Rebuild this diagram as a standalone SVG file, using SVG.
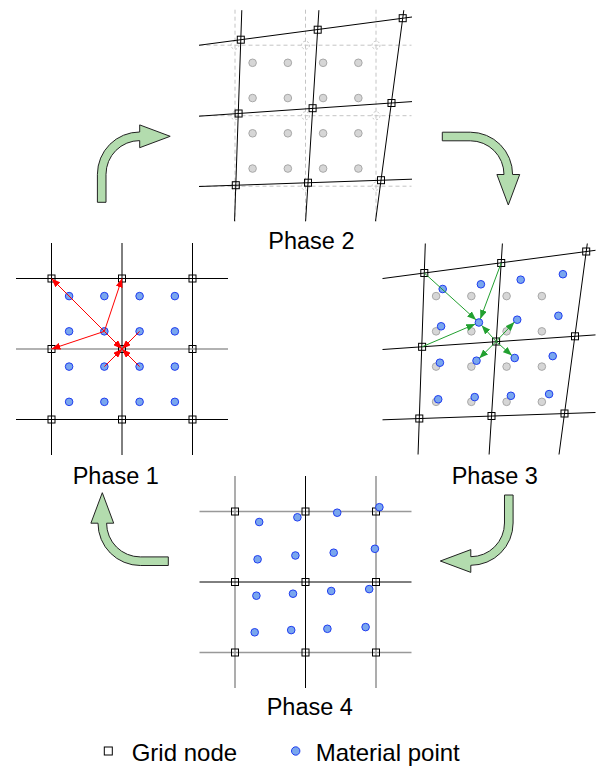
<svg xmlns="http://www.w3.org/2000/svg" xmlns:xlink="http://www.w3.org/1999/xlink" width="600" height="767" viewBox="0 0 600 767">
<defs>
<style>
.bk{stroke:#000;stroke-width:1;fill:none}
.gy{stroke:#999;stroke-width:1.6;fill:none}
.ds{stroke:#c4c4c4;stroke-width:1;stroke-dasharray:4 3;fill:none}
.dc{stroke:#c4c4c4;stroke-width:1;stroke-dasharray:2 2;fill:none}
.nd{fill:none;stroke:#000;stroke-width:1}
.mp{fill:#79a6ee;stroke:#1f3cf0;stroke-width:1}
.gp{fill:#d6d6d6;stroke:#a8a8a8;stroke-width:1}
.ra{stroke:#f00;stroke-width:1;fill:none;marker-end:url(#mr)}
.ga{stroke:#22a030;stroke-width:1;fill:none;marker-end:url(#mg)}
.big{fill:#b3dcae;stroke:#222;stroke-width:1}
.lbl{font-family:"Liberation Sans",Arial,sans-serif;font-size:23.5px;fill:#000}
</style>
<marker id="mr" markerUnits="userSpaceOnUse" markerWidth="9" markerHeight="7" viewBox="0 0 9 7" refX="9" refY="3.5" orient="auto"><path d="M0,0 L9,3.5 L0,7 z" fill="#f00"/></marker>
<marker id="mg" markerUnits="userSpaceOnUse" markerWidth="9" markerHeight="7" viewBox="0 0 9 7" refX="9" refY="3.5" orient="auto"><path d="M0,0 L9,3.5 L0,7 z" fill="#22a030"/></marker>
<path id="curv" class="big" d="M -4.3 0 L -4.3 -28 A 42.3 42.3 0 0 1 38 -70.3 L 38 -77.4 L 68.5 -66 L 38 -54.6 L 38 -61.7 A 33.7 33.7 0 0 0 4.3 -28 L 4.3 0 Z"/>
<rect id="sq" x="-3.5" y="-3.5" width="7" height="7" class="nd"/>
<circle id="bp" r="3.8" class="mp"/>
<circle id="gp" r="3.8" class="gp"/>
<g id="origpts">
<use href="#gp" x="17.6" y="17.6"/><use href="#gp" x="52.85" y="17.6"/><use href="#gp" x="88.1" y="17.6"/><use href="#gp" x="123.35" y="17.6"/>
<use href="#gp" x="17.6" y="52.85"/><use href="#gp" x="52.85" y="52.85"/><use href="#gp" x="88.1" y="52.85"/><use href="#gp" x="123.35" y="52.85"/>
<use href="#gp" x="17.6" y="88.1"/><use href="#gp" x="52.85" y="88.1"/><use href="#gp" x="88.1" y="88.1"/><use href="#gp" x="123.35" y="88.1"/>
<use href="#gp" x="17.6" y="123.35"/><use href="#gp" x="52.85" y="123.35"/><use href="#gp" x="88.1" y="123.35"/><use href="#gp" x="123.35" y="123.35"/>
</g>
<g id="movedpts">
<use href="#bp" x="24.2" y="10.5"/><use href="#bp" x="62.4" y="5.8"/><use href="#bp" x="102.2" y="1.2"/><use href="#bp" x="144.4" y="-4.3"/>
<use href="#bp" x="22.6" y="47.8"/><use href="#bp" x="60.4" y="44"/><use href="#bp" x="98.7" y="41.2"/><use href="#bp" x="139.9" y="37.3"/>
<use href="#bp" x="21.4" y="84.2"/><use href="#bp" x="58" y="82.2"/><use href="#bp" x="96.2" y="79.5"/><use href="#bp" x="134.2" y="77.6"/>
<use href="#bp" x="19.7" y="120.8"/><use href="#bp" x="56.2" y="118.6"/><use href="#bp" x="92.4" y="117.3"/><use href="#bp" x="130.6" y="115.6"/>
</g>
<g id="defgrid">
<path class="bk" d="M-36 0.05 L177 -28.2 M-36 71 L177 56.4 M-36 141.3 L177 134 M6.8 -35 L-0.44 176 M83.9 -35 L70.6 176 M168.8 -35 L140.5 176"/>
<use href="#sq" x="5.8" y="-5.5"/><use href="#sq" x="82.7" y="-15.5"/><use href="#sq" x="167.7" y="-27"/>
<use href="#sq" x="3.6" y="68.3"/><use href="#sq" x="77.6" y="63"/><use href="#sq" x="156.5" y="57.8"/>
<use href="#sq" x="0.8" y="140"/><use href="#sq" x="73" y="137.5"/><use href="#sq" x="146" y="135"/>
</g>
<g id="regnodes">
<use href="#sq" x="0" y="0"/><use href="#sq" x="70.5" y="0"/><use href="#sq" x="141" y="0"/>
<use href="#sq" x="0" y="70.5"/><use href="#sq" x="70.5" y="70.5"/><use href="#sq" x="141" y="70.5"/>
<use href="#sq" x="0" y="141"/><use href="#sq" x="70.5" y="141"/><use href="#sq" x="141" y="141"/>
</g>
</defs>
<rect width="600" height="767" fill="#fff"/>

<g id="phase1" transform="translate(51.5,278.5)">
<path class="bk" d="M0 -35.5 V176.5 M70.5 -35.5 V176.5 M141 -35.5 V176.5 M-35.5 0 H176.5 M-35.5 141 H176.5"/>
<path class="gy" d="M-35.5 70.5 H176.5"/>
<g transform="translate(0,0)">
<use href="#bp" x="17.6" y="17.6"/><use href="#bp" x="52.85" y="17.6"/><use href="#bp" x="88.1" y="17.6"/><use href="#bp" x="123.35" y="17.6"/>
<use href="#bp" x="17.6" y="52.85"/><use href="#bp" x="52.85" y="52.85"/><use href="#bp" x="88.1" y="52.85"/><use href="#bp" x="123.35" y="52.85"/>
<use href="#bp" x="17.6" y="88.1"/><use href="#bp" x="52.85" y="88.1"/><use href="#bp" x="88.1" y="88.1"/><use href="#bp" x="123.35" y="88.1"/>
<use href="#bp" x="17.6" y="123.35"/><use href="#bp" x="52.85" y="123.35"/><use href="#bp" x="88.1" y="123.35"/><use href="#bp" x="123.35" y="123.35"/>
</g>
<use href="#regnodes"/>
<line class="ra" x1="52.85" y1="52.85" x2="0" y2="0"/>
<line class="ra" x1="52.85" y1="52.85" x2="70.5" y2="0"/>
<line class="ra" x1="52.85" y1="52.85" x2="0" y2="70.5"/>
<line class="ra" x1="52.85" y1="52.85" x2="70.5" y2="70.5"/>
<line class="ra" x1="88.1" y1="52.85" x2="70.5" y2="70.5"/>
<line class="ra" x1="52.85" y1="88.1" x2="70.5" y2="70.5"/>
<line class="ra" x1="88.1" y1="88.1" x2="70.5" y2="70.5"/>
<text class="lbl" x="21.2" y="205.8">Phase 1</text>
</g>

<g id="phase2" transform="translate(235,45.2)">
<path class="ds" d="M0 -35.5 V176.5 M70.5 -35.5 V176.5 M141 -35.5 V176.5 M-35.5 0 H176.5 M-35.5 70.5 H176.5 M-35.5 141 H176.5"/>
<g>
<circle class="dc" cx="0" cy="0" r="4"/><circle class="dc" cx="70.5" cy="0" r="4"/><circle class="dc" cx="141" cy="0" r="4"/>
<circle class="dc" cx="0" cy="70.5" r="4"/><circle class="dc" cx="70.5" cy="70.5" r="4"/><circle class="dc" cx="141" cy="70.5" r="4"/>
<circle class="dc" cx="0" cy="141" r="4"/><circle class="dc" cx="70.5" cy="141" r="4"/><circle class="dc" cx="141" cy="141" r="4"/>
</g>
<use href="#origpts"/>
<use href="#defgrid"/>
<text class="lbl" x="33.3" y="204">Phase 2</text>
</g>

<g id="phase3" transform="translate(418.5,278.5)">
<use href="#defgrid"/>
<use href="#origpts"/>
<use href="#movedpts"/>
<line class="ga" x1="5.8" y1="-5.5" x2="57.6" y2="41.4"/>
<line class="ga" x1="82.7" y1="-15.5" x2="61.8" y2="40.4"/>
<line class="ga" x1="3.6" y1="68.3" x2="56.8" y2="45.5"/>
<line class="ga" x1="77.6" y1="63" x2="63.2" y2="46.9"/>
<line class="ga" x1="77.6" y1="63" x2="95.9" y2="43.5"/>
<line class="ga" x1="77.6" y1="63" x2="60.8" y2="79.8"/>
<line class="ga" x1="77.6" y1="63" x2="93.4" y2="77"/>
<text class="lbl" x="33.2" y="205.8">Phase 3</text>
</g>

<g id="phase4" transform="translate(235,511.5)">
<path class="gy" d="M0 -35.5 V176.5 M141 -35.5 V176.5 M-35.5 0 H176.5 M-35.5 141 H176.5"/>
<path class="bk" d="M70.5 -35.5 V176.5 M-35.5 70.5 H176.5"/>
<use href="#regnodes"/>
<use href="#movedpts"/>
<text class="lbl" x="31.7" y="203.5">Phase 4</text>
</g>

<g id="connectors">
<use href="#curv" transform="translate(101.7,202.3)"/>
<use href="#curv" transform="translate(442.3,136.5) rotate(90)"/>
<use href="#curv" transform="translate(508.8,495) rotate(180)"/>
<use href="#curv" transform="translate(168.3,561.2) rotate(270)"/>
</g>

<g id="legend">
<rect x="104.3" y="747" width="8" height="8" fill="none" stroke="#000" stroke-width="1"/>
<text class="lbl" x="131.7" y="761" style="font-size:24px">Grid node</text>
<circle cx="295.7" cy="751" r="4.2" class="mp"/>
<text class="lbl" x="315.7" y="761" style="font-size:24px">Material point</text>
</g>
</svg>
